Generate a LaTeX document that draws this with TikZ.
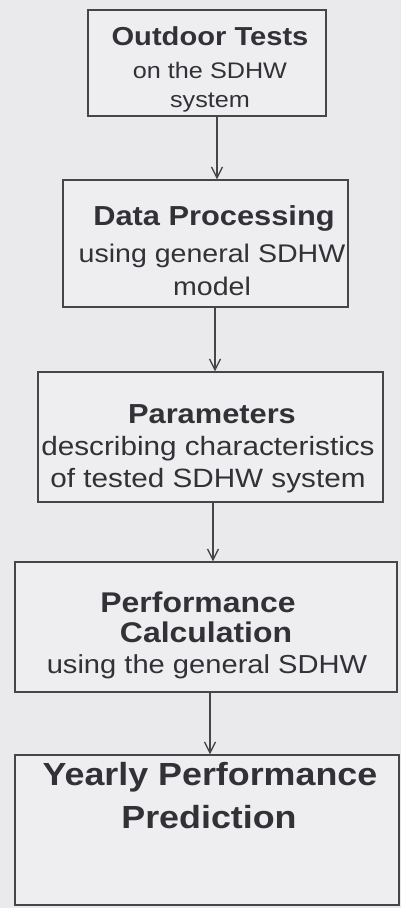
\documentclass[tikz,border=0pt]{standalone}
\usepackage{fontspec}
\setmainfont{Liberation Sans}[FakeStretch=1.12]
\usetikzlibrary{arrows.meta}
\definecolor{paper}{RGB}{234,234,237}
\definecolor{boxfill}{RGB}{238,238,241}
\definecolor{ink}{RGB}{50,50,54}
\definecolor{frame}{RGB}{70,70,74}
\tikzset{
  stage/.style={draw=frame, line width=1.3pt, fill=boxfill, inner sep=0pt},
  title/.style={anchor=base, text=ink, font=\bfseries\fontsize{#1}{#1}\selectfont, inner sep=0pt},
  sub/.style={anchor=base, text=ink, font=\fontsize{#1}{#1}\selectfont, inner sep=0pt},
  flow/.style={draw=frame, line width=1.3pt, -{Straight Barb[length=11pt,width=11pt,line width=1.3pt]}}
}
\begin{document}
\begin{tikzpicture}[x=1pt,y=-1pt]
  \fill[paper] (0,0) rectangle (401,908);
  \useasboundingbox (0,0) rectangle (401,908);

  % stage boxes
  \node[stage, minimum width=238pt, minimum height=106pt] (b1) at (207,63) {};
  \node[stage, minimum width=285pt, minimum height=127pt] (b2) at (205.5,243.5) {};
  \node[stage, minimum width=345pt, minimum height=130pt] (b3) at (210.5,437) {};
  \node[stage, minimum width=382pt, minimum height=130pt] (b4) at (206,627) {};
  \node[stage, minimum width=384pt, minimum height=150pt] (b5) at (207,830) {};

  % labels
  \node[title=26] (t1) at (210,45) {Outdoor Tests};
  \node[sub=22.5] (s1a) at (210,78) {on the SDHW};
  \node[sub=22.5] (s1b) at (210,107) {system};

  \node[title=27.5] (t2) at (214,225) {Data Processing};
  \node[sub=25.5] (s2a) at (212,262) {using general SDHW};
  \node[sub=25.5] (s2b) at (212,295) {model};

  \node[title=27.5] (t3) at (212,423) {Parameters};
  \node[sub=26.5] (s3a) at (208,455) {describing characteristics};
  \node[sub=26.5] (s3b) at (208,487) {of tested SDHW system};

  \node[title=28.5] (t4) at (198,612) {Performance};
  \node[title=28.5] (t4b) at (206,642) {Calculation};
  \node[sub=26] (s4a) at (207,673) {using the general SDHW};

  \node[title=32] (t5) at (210,785) {Yearly Performance};
  \node[title=32] (t5b) at (209,828) {Prediction};

  % connectors
  \draw[flow] (b1.south -| 217,0) -- (b2.north -| 217,0);
  \draw[flow] (b2.south -| 215,0) -- (b3.north -| 215,0);
  \draw[flow] (b3.south -| 213,0) -- (b4.north -| 213,0);
  \draw[flow] (b4.south -| 210,0) -- (b5.north -| 210,0);
\end{tikzpicture}
\end{document}
